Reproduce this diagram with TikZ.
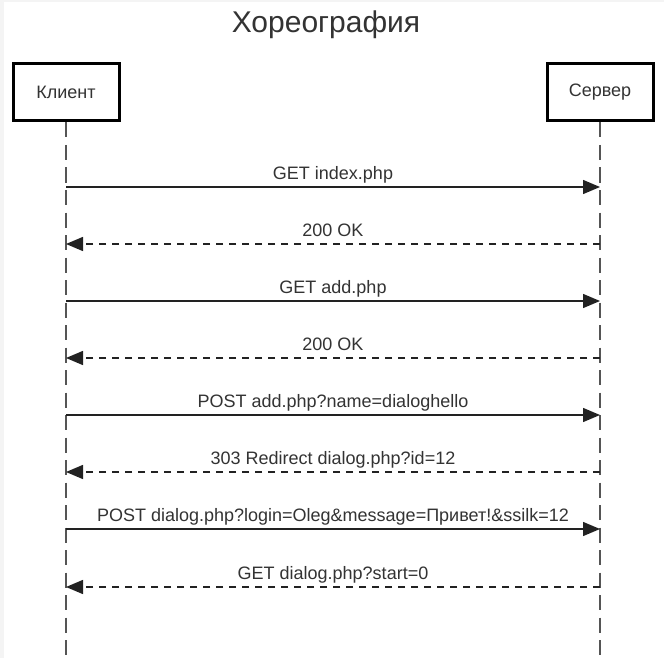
\documentclass[tikz,border=0pt]{standalone}
\usepackage{fontspec}
\setmainfont{Liberation Sans}
\usetikzlibrary{arrows.meta}
\definecolor{txt}{HTML}{333333}
\definecolor{life}{HTML}{555555}
\definecolor{edgegray}{HTML}{F4F4F4}
\definecolor{linecol}{HTML}{222222}
\begin{document}
\begin{tikzpicture}[x=1pt,y=-1pt,
  actor/.style={draw=black, line width=3pt, fill=white, minimum width=106pt, minimum height=57pt, inner sep=0pt, font=\fontsize{18}{20}\selectfont, text=txt},
  lifeline/.style={draw=life, line width=1.6pt, dash pattern=on 15pt off 7.5pt},
  msg/.style={draw=linecol, line width=1.4pt, -{Triangle[length=17pt,width=14pt]}},
  reply/.style={msg, dash pattern=on 7pt off 6pt},
  lbl/.style={font=\fontsize{18}{20}\selectfont, text=txt, anchor=base, inner sep=0pt}]
\fill[edgegray] (0,0) rectangle (664,658);
\fill[white] (4,2) rectangle (664,658);
\useasboundingbox (0,0) rectangle (664,658);
\node[font=\fontsize{30}{34}\selectfont, text=txt, anchor=base, inner sep=0pt] (title) at (326,33) {Хореография};
\node[actor] (client) at (66,92.5) {Клиент};
\node[actor] (server) at (600,92.5) {Сервер};
\coordinate (cbot) at (66,658);
\coordinate (sbot) at (600,658);
\draw[lifeline] (client.south) -- (cbot);
\draw[lifeline] (server.south) -- (sbot);
% message end points
\foreach \i/\y in {1/187,2/244,3/301,4/358,5/415,6/472,7/529,8/587}{
  \coordinate (c\i) at (66,\y);
  \coordinate (s\i) at (600,\y);
}
\draw[msg] (c1) -- (s1);
\draw[reply] (s2) -- (c2);
\draw[msg] (c3) -- (s3);
\draw[reply] (s4) -- (c4);
\draw[msg] (c5) -- (s5);
\draw[reply] (s6) -- (c6);
\draw[msg] (c7) -- (s7);
\draw[reply] (s8) -- (c8);
\node[lbl] (l1) at (333,179.5) {GET index.php};
\node[lbl] (l2) at (333,236.5) {200 OK};
\node[lbl] (l3) at (333,293.5) {GET add.php};
\node[lbl] (l4) at (333,350.5) {200 OK};
\node[lbl] (l5) at (333,407.5) {POST add.php?name=dialoghello};
\node[lbl] (l6) at (333,464.5) {303 Redirect dialog.php?id=12};
\node[lbl] (l7) at (333,521.5) {POST dialog.php?login=Oleg\&message=Привет!\&ssilk=12};
\node[lbl] (l8) at (333,579.5) {GET dialog.php?start=0};
\end{tikzpicture}
\end{document}
